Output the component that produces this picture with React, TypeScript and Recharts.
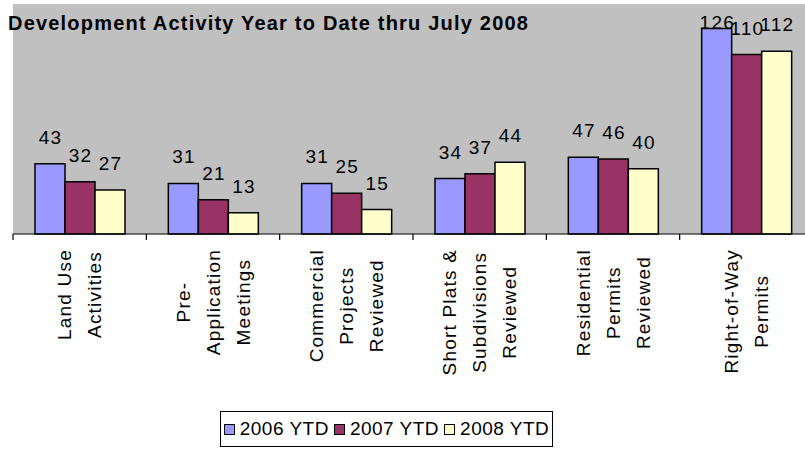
import React from 'react';
import { BarChart, Bar, XAxis, YAxis, CartesianGrid, LabelList } from 'recharts';

const categories = [
  'Land Use\nActivities',
  'Pre-\nApplication\nMeetings',
  'Commercial\nProjects\nReviewed',
  'Short Plats &\nSubdivisions\nReviewed',
  'Residential\nPermits\nReviewed',
  'Right-of-Way\nPermits',
];
const seriesNames = ['2006 YTD', '2007 YTD', '2008 YTD'];
const values2006 = [43, 31, 31, 34, 47, 126];
const values2007 = [32, 21, 25, 37, 46, 110];
const values2008 = [27, 13, 15, 44, 40, 112];
const yDomainMax = 141;

const colors = ['#9999FF', '#993366', '#FFFFCC'];
const FONT = '"Liberation Sans", Arial, sans-serif';

const CHART_W = 813;
const CHART_H = 450;
const MARGIN_LEFT = 13;
const MARGIN_TOP = 4;
const XAXIS_H = 216;
const PLOT_W = CHART_W - MARGIN_LEFT;

const data = categories.map((name, i) => ({
  name,
  y2006: values2006[i],
  y2007: values2007[i],
  y2008: values2008[i],
}));

let ctx: CanvasRenderingContext2D | null = null;
function textWidth(s: string, size: number, spacing: number) {
  if (!ctx && typeof document !== 'undefined') {
    ctx = document.createElement('canvas').getContext('2d');
  }
  if (!ctx) return s.length * size * 0.55;
  ctx.font = `${size}px "Liberation Sans"`;
  return ctx.measureText(s).width + spacing * s.length;
}

const CategoryTick = (props: any) => {
  const { x, y, payload, index } = props;
  const lines = String(payload.value).split('\n');
  const band = PLOT_W / categories.length;
  const maxLen = Math.max(...lines.map((l) => textWidth(l, 19, 1.2)));
  const cy = y + 15 + maxLen / 2;
  return (
    <g>
      <line x1={x - band / 2} x2={x - band / 2} y1={y} y2={y + 6} stroke="#000" strokeWidth={1.2} />
      {index === categories.length - 1 && (
        <line x1={x + band / 2} x2={x + band / 2} y1={y} y2={y + 6} stroke="#000" strokeWidth={1.2} />
      )}
      {lines.map((l, i) => (
        <text
          key={i}
          transform={`translate(${x + (i - (lines.length - 1) / 2) * 30},${cy}) rotate(-90)`}
          textAnchor="middle"
          dominantBaseline="central"
          fontFamily={FONT}
          fontSize={19}
          letterSpacing={1.2}
          fill="#000"
        >
          {l}
        </text>
      ))}
    </g>
  );
};

const ValueLabel = (props: any) => {
  const { x, y, width, value } = props;
  const baseline = Math.max(Number(y) - 20, 28.5);
  return (
    <text
      x={Number(x) + Number(width) / 2 + 0.6}
      y={baseline}
      textAnchor="middle"
      fontFamily={FONT}
      fontSize={19}
      letterSpacing={1.2}
      fill="#000"
    >
      {value}
    </text>
  );
};

const keys = ['y2006', 'y2007', 'y2008'];

export default function App() {
  return (
    <div
      style={{
        position: 'absolute',
        left: 0,
        top: 0,
        width: 805,
        height: 450,
        overflow: 'hidden',
        background: '#fff',
      }}
    >
      <BarChart
        width={CHART_W}
        height={CHART_H}
        data={data}
        margin={{ top: MARGIN_TOP, right: 0, bottom: 0, left: MARGIN_LEFT }}
        barGap={0}
      >
        <CartesianGrid fill="#C0C0C0" horizontal={false} vertical={false} />
        <XAxis
          xAxisId="top"
          orientation="top"
          dataKey="name"
          height={0}
          tick={false}
          tickLine={false}
          axisLine={{ stroke: '#808080', strokeWidth: 1.5 }}
        />
        <XAxis
          dataKey="name"
          height={XAXIS_H}
          interval={0}
          tickSize={0}
          tickMargin={0}
          tickLine={false}
          axisLine={{ stroke: '#000', strokeWidth: 1.2 }}
          tick={<CategoryTick />}
        />
        <YAxis
          width={0}
          domain={[0, yDomainMax]}
          tick={false}
          tickLine={false}
          axisLine={{ stroke: '#808080', strokeWidth: 1.5 }}
        />
        {keys.map((k, i) => (
          <Bar
            key={k}
            dataKey={k}
            name={seriesNames[i]}
            fill={colors[i]}
            stroke="#000"
            strokeWidth={1.5}
            barSize={30}
            isAnimationActive={false}
          >
            <LabelList dataKey={k} content={<ValueLabel />} />
          </Bar>
        ))}
      </BarChart>
      <div
        style={{
          position: 'absolute',
          left: 8,
          top: 13,
          fontFamily: FONT,
          fontWeight: 'bold',
          fontSize: 20,
          lineHeight: '20px',
          letterSpacing: 1.2,
          color: '#000',
          whiteSpace: 'nowrap',
        }}
      >
        Development Activity Year to Date thru July 2008
      </div>
      <div
        style={{
          position: 'absolute',
          left: 220,
          top: 411,
          width: 333,
          height: 36,
          boxSizing: 'border-box',
          border: '1px solid #000',
          background: '#fff',
          display: 'flex',
          alignItems: 'center',
          justifyContent: 'center',
          fontFamily: FONT,
          fontSize: 19,
          letterSpacing: 0.5,
          whiteSpace: 'nowrap',
        }}
      >
        {seriesNames.map((n, i) => (
          <span key={n} style={{ display: 'flex', alignItems: 'center', marginRight: i < 2 ? 5 : 0 }}>
            <span
              style={{
                display: 'inline-block',
                width: 9,
                height: 9,
                border: '1px solid #000',
                background: colors[i],
                marginRight: 5,
              }}
            />
            {n}
          </span>
        ))}
      </div>
    </div>
  );
}
